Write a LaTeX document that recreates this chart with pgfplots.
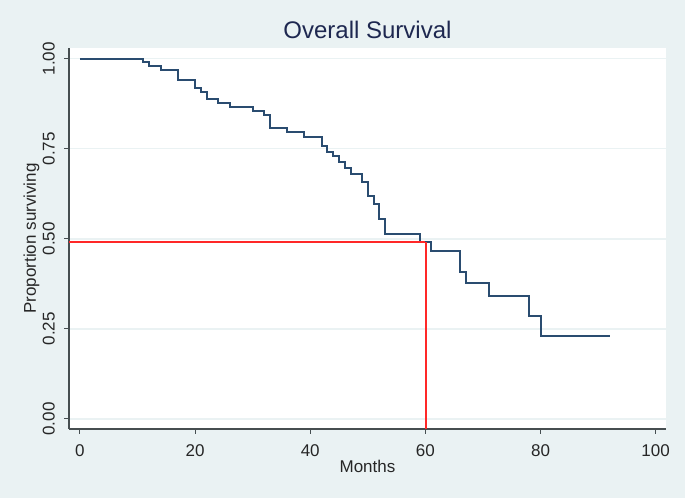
\documentclass[border=0pt]{standalone}
\usepackage{pgfplots}
\pgfplotsset{compat=1.18}
\usepackage{fontspec}
\setmainfont{Liberation Sans}
\definecolor{stbg}{RGB}{234,242,243}
\definecolor{stgrid}{RGB}{234,242,243}
\definecolor{stnavy}{RGB}{42,76,112}
\definecolor{sttitle}{RGB}{30,40,80}
\definecolor{staxis}{RGB}{70,78,80}
\definecolor{stred}{RGB}{255,40,40}
\begin{document}
\begin{tikzpicture}[x=1bp,y=1bp]
\fill[stbg] (0,0) rectangle (685,498);
\useasboundingbox (0,0) rectangle (685,498);
\begin{axis}[
    at={(69bp,69bp)}, anchor=south west,
    scale only axis, width=597bp, height=381bp,
    xmin=-1.9, xmax=101.8, ymin=-0.028, ymax=1.03,
    axis x line*=bottom, axis y line*=left,
    axis line style={staxis, line width=1.3bp},
    axis background/.style={fill=white},
    xtick={0,20,...,100},
    ytick={0,0.25,0.5,0.75,1},
    tick align=outside, major tick length=5bp,
    tick style={staxis, line width=1.1bp},
    ymajorgrids, grid style={stgrid, line width=1.3bp},
    /pgf/number format/assume math mode=true,
    every tick label/.append style={font=\fontsize{17bp}{20bp}\selectfont, text=black!85},
    yticklabel style={/pgf/number format/fixed, /pgf/number format/fixed zerofill,
        /pgf/number format/precision=2, xshift=-9bp, rotate=90, anchor=south, inner sep=0pt},
    xticklabel style={anchor=north, inner sep=0pt, yshift=-10bp},
    title={Overall Survival},
    title style={at={(axis description cs:0.5,1)}, anchor=base, yshift=3.3bp,
        font=\fontsize{24bp}{28bp}\selectfont, text=sttitle},
    xlabel={Months},
    xlabel style={at={(axis description cs:0.5,0)}, anchor=base, yshift=-44bp,
        font=\fontsize{17bp}{20bp}\selectfont, text=black!85},
    ylabel={Proportion surviving},
    ylabel style={at={(axis description cs:-0.0628,0.5)}, anchor=center,
        font=\fontsize{17bp}{20bp}\selectfont, text=black!85},
    clip=false,
]
% Kaplan-Meier estimate
\addplot[const plot, stnavy, line width=2bp] coordinates {
    (0,1.000) (11,0.990) (12,0.981) (14,0.969) (17,0.940) (20,0.919)
    (21,0.909) (22,0.888) (24,0.878) (26,0.867) (30,0.856) (32,0.844)
    (33,0.807) (36,0.796) (39,0.784) (42,0.757) (43,0.742) (44,0.729)
    (45,0.713) (46,0.696) (47,0.681) (49,0.659) (50,0.619) (51,0.597)
    (52,0.556) (53,0.513) (59,0.491) (61,0.465) (66,0.407) (67,0.378)
    (71,0.342) (78,0.286) (80,0.229) (92,0.229)
};
% median survival guide lines
\addplot[color=stred, line width=1.5bp] coordinates {(-1.9,0.491) (60,0.491)};
\addplot[color=stred, line width=1.5bp] coordinates {(60.1,0.491) (60.1,-0.028)};
\end{axis}
\end{tikzpicture}
\end{document}
